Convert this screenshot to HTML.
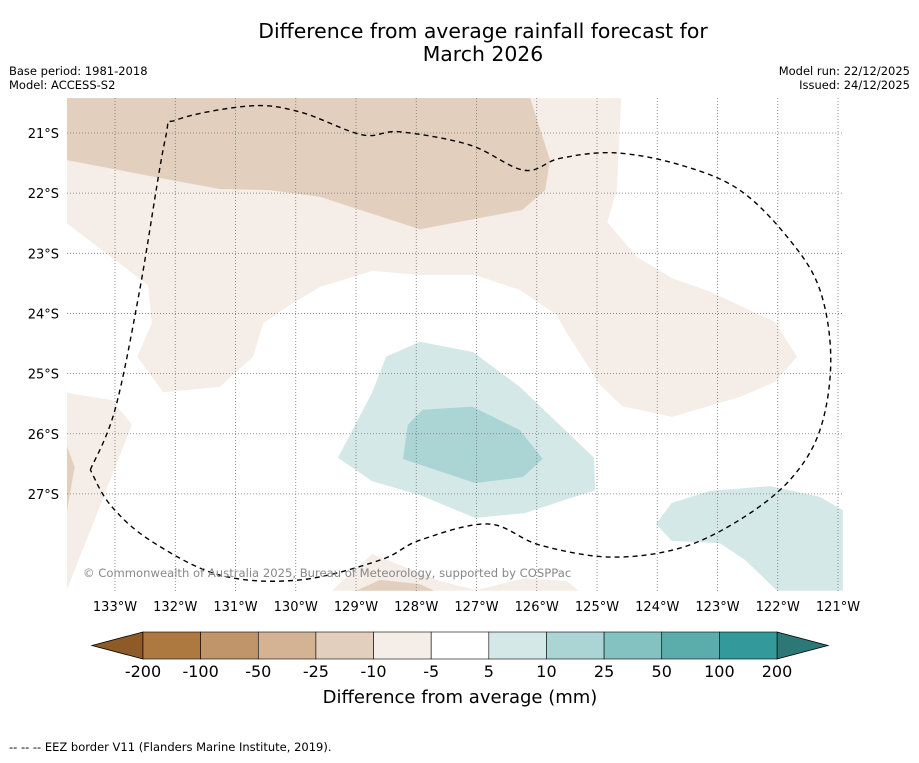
<!DOCTYPE html>
<html><head><meta charset="utf-8">
<style>
body{margin:0;background:#fff;font-family:"Liberation Sans","DejaVu Sans",sans-serif;}
svg text{font-family:"DejaVu Sans","Liberation Sans",sans-serif;}
</style></head>
<body>
<svg width="919" height="758" xmlns="http://www.w3.org/2000/svg">
<text x="483" y="38" font-size="20.4" text-anchor="middle">Difference from average rainfall forecast for</text>
<text x="483" y="61" font-size="20.4" text-anchor="middle">March 2026</text>
<text x="9" y="75" font-size="11.5">Base period: 1981-2018</text>
<text x="9" y="89" font-size="11.5">Model: ACCESS-S2</text>
<text x="910" y="75" font-size="11.5" text-anchor="end">Model run: 22/12/2025</text>
<text x="910" y="89" font-size="11.5" text-anchor="end">Issued: 24/12/2025</text>
<defs><clipPath id="mc"><rect x="67" y="98" width="776" height="493"/></clipPath></defs>
<g id="map" clip-path="url(#mc)"></g>
<g id="axes"></g>
<g id="cbar"></g>
<text x="460" y="703" font-size="18" text-anchor="middle">Difference from average (mm)</text>
<text x="9" y="751" font-size="11.5">--  --  -- EEZ border V11 (Flanders Marine Institute, 2019).</text>
</svg>
<script>
const lonTicks=[-133,-132,-131,-130,-129,-128,-127,-126,-125,-124,-123,-122,-121];
const latTicks=[-21,-22,-23,-24,-25,-26,-27];
const cbLabels=["-200","-100","-50","-25","-10","-5","5","10","25","50","100","200"];
const cbColors=["#ae7841","#c0956a","#d4b394","#e3cfbd","#f5ede7","#ffffff","#d4e8e7","#aad5d4","#83c2c0","#5aadab","#33999a"];
const cbEnds=["#8e5a28","#2b7876"];
const levelColor={"-25..-10":"#e3cfbd","-10..-5":"#f5ede7","5..10":"#d4e8e7","10..25":"#aad5d4"};
const polyLight=[[-133.8,-20.42],[-124.6,-20.42],[-124.67,-21.95],[-124.83,-22.48],[-124.34,-23.06],[-123.76,-23.41],[-123.12,-23.64],[-122.05,-24.14],[-121.68,-24.72],[-122.05,-25.14],[-122.63,-25.39],[-123.76,-25.72],[-124.58,-25.54],[-124.95,-25.19],[-125.53,-24.28],[-125.66,-24.03],[-126.28,-23.61],[-127.02,-23.36],[-127.94,-23.36],[-128.73,-23.29],[-129.6,-23.56],[-130.1,-23.86],[-130.54,-24.16],[-130.71,-24.72],[-131.26,-25.22],[-132.2,-25.31],[-132.63,-24.72],[-132.39,-24.16],[-132.45,-23.53],[-133.8,-22.5]];
const polyDark=[[-133.8,-20.42],[-126.11,-20.42],[-125.78,-21.45],[-125.86,-21.95],[-126.24,-22.28],[-127.94,-22.6],[-129.6,-22.06],[-130.43,-21.95],[-131.26,-21.93],[-131.92,-21.81],[-133.8,-21.45]];
const polyLeft=[[-133.8,-25.32],[-133.05,-25.44],[-132.72,-25.85],[-133.8,-28.6]];
const polyLeftDark=[[-133.8,-26.2],[-133.67,-26.55],[-133.8,-27.3]];
const polyBotLight=[[-129.4,-28.61],[-128.73,-28.0],[-127.6,-28.45],[-127.0,-28.6],[-126.2,-28.4],[-125.5,-28.45],[-125.3,-28.61]];
const polyBotDark=[[-129.0,-28.61],[-128.6,-28.43],[-127.94,-28.5],[-127.7,-28.61]];
const polyTeal1=[[-128.5,-24.72],[-127.94,-24.47],[-127.06,-24.64],[-126.28,-25.22],[-125.05,-26.4],[-125.03,-26.94],[-125.53,-27.1],[-126.2,-27.32],[-127.02,-27.4],[-127.94,-27.02],[-128.73,-26.79],[-129.3,-26.4],[-128.73,-25.31]];
const polyTeal2=[[-127.89,-25.6],[-127.07,-25.55],[-126.28,-25.94],[-125.9,-26.42],[-126.23,-26.72],[-127.02,-26.82],[-128.22,-26.42],[-128.14,-25.85]];
const polyTeal3=[[-124.02,-27.5],[-123.76,-27.15],[-123.12,-26.95],[-122.13,-26.87],[-121.3,-27.05],[-120.92,-27.27],[-120.92,-28.61],[-122.01,-28.61],[-122.54,-28.1],[-122.96,-27.82],[-123.76,-27.78]];
const eez=[[-133.41,-26.6],[-133,-25.6],[-132.59,-23.61],[-132.17,-21.12],[-131.97,-20.78],[-130.76,-20.55],[-129.93,-20.65],[-128.9,-21.03],[-128.27,-20.98],[-127.11,-21.2],[-126.21,-21.62],[-125.61,-21.42],[-124.7,-21.33],[-123.62,-21.53],[-122.63,-21.95],[-121.8,-22.78],[-121.3,-23.61],[-121.12,-24.77],[-121.3,-25.94],[-121.8,-26.77],[-122.63,-27.43],[-123.62,-27.9],[-124.78,-28.05],[-125.95,-27.85],[-126.81,-27.5],[-127.94,-27.77],[-128.6,-28.1],[-129.93,-28.43],[-131.26,-28.35],[-132.42,-27.77],[-133.08,-27.18],[-133.41,-26.6]];

const NS="http://www.w3.org/2000/svg";
function X(lon){return 115+(lon+133)*60.25;}
function Y(lat){return 133-(lat+21)*60.15;}
function mk(t,a,p){const e=document.createElementNS(NS,t);for(const k in a)e.setAttribute(k,a[k]);p.appendChild(e);return e;}
const map=document.getElementById('map');
function poly(pts,fill,name){const e=mk('polygon',{points:pts.map(p=>X(p[0])+','+Y(p[1])).join(' '),fill:fill,stroke:'none'},map);

}
poly(polyLight,levelColor["-10..-5"],'contour-minus10-minus5');
poly(polyDark,levelColor["-25..-10"],'contour-minus25-minus10');
poly(polyLeft,levelColor["-10..-5"],'contour-left-light');
poly(polyLeftDark,levelColor["-25..-10"],'contour-left-dark');
poly(polyBotLight,levelColor["-10..-5"],'contour-bottom-light');
poly(polyBotDark,levelColor["-25..-10"],'contour-bottom-dark');
poly(polyTeal1,levelColor["5..10"],'contour-5-10');
poly(polyTeal2,levelColor["10..25"],'contour-10-25');
poly(polyTeal3,levelColor["5..10"],'contour-right-5-10');
lonTicks.forEach(l=>{const e=mk('line',{x1:X(l),x2:X(l),y1:98,y2:591,stroke:'#777','stroke-width':0.8,'stroke-dasharray':'1,2'},map);

});
latTicks.forEach(l=>{const e=mk('line',{x1:67,x2:843,y1:Y(l),y2:Y(l),stroke:'#777','stroke-width':0.8,'stroke-dasharray':'1,2'},map);

});
// smooth EEZ path (Catmull-Rom)
const P=eez.map(p=>[X(p[0]),Y(p[1])]);
let d='M'+P[0][0]+','+P[0][1];
for(let i=0;i<P.length-1;i++){const p0=P[Math.max(0,i-1)],p1=P[i],p2=P[i+1],p3=P[Math.min(P.length-1,i+2)];
d+=' C'+(p1[0]+(p2[0]-p0[0])/6)+','+(p1[1]+(p2[1]-p0[1])/6)+' '+(p2[0]-(p3[0]-p1[0])/6)+','+(p2[1]-(p3[1]-p1[1])/6)+' '+p2[0]+','+p2[1];}
const ez=mk('path',{d:d,fill:'none',stroke:'#000','stroke-width':1.4,'stroke-dasharray':'5,4'},map);


const cp=mk('text',{x:83,y:577,'font-size':11.6,fill:'#888'},map);cp.textContent='© Commonwealth of Australia 2025, Bureau of Meteorology, supported by COSPPac';


const ax=document.getElementById('axes');
lonTicks.forEach(l=>{const t=mk('text',{x:X(l),y:611,'font-size':13,'text-anchor':'middle'},ax);t.textContent=Math.abs(l)+'°W';

});
latTicks.forEach(l=>{const t=mk('text',{x:59,y:Y(l)+5,'font-size':13,'text-anchor':'end'},ax);t.textContent=Math.abs(l)+'°S';

});
const cb=document.getElementById('cbar');
const x0=143,x1=777,cy0=632,cy1=659,w=(x1-x0)/cbColors.length;
const l1=mk('polygon',{points:`${x0},${cy0} ${x0},${cy1} 92,${(cy0+cy1)/2}`,fill:cbEnds[0],stroke:'#000','stroke-width':0.8},cb);


const l2=mk('polygon',{points:`${x1},${cy0} ${x1},${cy1} 828,${(cy0+cy1)/2}`,fill:cbEnds[1],stroke:'#000','stroke-width':0.8},cb);


cbColors.forEach((c,i)=>{const r=mk('rect',{x:x0+i*w,y:cy0,width:w,height:cy1-cy0,fill:c,stroke:'#000','stroke-width':0.6},cb);

});
cbLabels.forEach((s,i)=>{const t=mk('text',{x:x0+i*w,y:677,'font-size':16,'text-anchor':'middle'},cb);t.textContent=s;

});
</script>
</body></html>
